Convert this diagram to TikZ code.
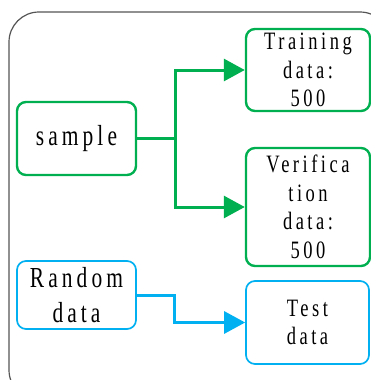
\documentclass[tikz,border=0pt]{standalone}
\usepackage{fontspec}
\setmainfont{Liberation Serif}[FakeStretch=0.74,LetterSpace=14]
\usetikzlibrary{arrows.meta}
\definecolor{sgreen}{RGB}{0,176,80}
\definecolor{sblue}{RGB}{0,176,240}
\definecolor{frame}{RGB}{85,85,85}
\begin{document}
\begin{tikzpicture}[x=1pt,y=-1pt,line width=0.5pt,
  gbox/.style={draw=sgreen,line width=2.4pt,rounded corners=9pt,align=center,inner sep=0pt},
  bbox/.style={draw=sblue,line width=1.7pt,rounded corners=9pt,align=center,inner sep=0pt},
  bigtext/.style={font=\fontsize{29}{35}\selectfont},
  smalltext/.style={font=\fontsize{25}{28.5}\selectfont},
  garrow/.style={draw=sgreen,line width=3pt,-{Triangle[length=21pt,width=22pt]}},
  barrow/.style={draw=sblue,line width=3pt,-{Triangle[length=21pt,width=22pt]}}]
  \useasboundingbox (0,0) rectangle (371,380);
  \draw[frame,line width=1.2pt,rounded corners=30pt] (9,12) rectangle (390,400); % outer frame
  % left column
  \node[gbox,bigtext,minimum width=119pt,minimum height=73pt] (sample) at (76.5,138.5) {sample};
  \node[bbox,bigtext,minimum width=119pt,minimum height=68pt] (random) at (76.5,295) {Random\\data};
  % right column
  \node[gbox,smalltext,minimum width=124pt,minimum height=82pt] (train) at (308,70) {Training\\data:\\500};
  \node[gbox,smalltext,minimum width=124pt,minimum height=118pt] (verify) at (308,207) {Verifica\\tion\\data:\\500};
  \node[bbox,smalltext,minimum width=123pt,minimum height=83pt] (test) at (307.5,322.5) {Test\\data};
  % connectors
  \draw[garrow] (sample.east) -- ++(38,0) |- (train.west);
  \draw[garrow] (sample.east) -- ++(38,0) |- (verify.west);
  \draw[barrow] (random.east) -- ++(38,0) |- (test.west);
\end{tikzpicture}
\end{document}
